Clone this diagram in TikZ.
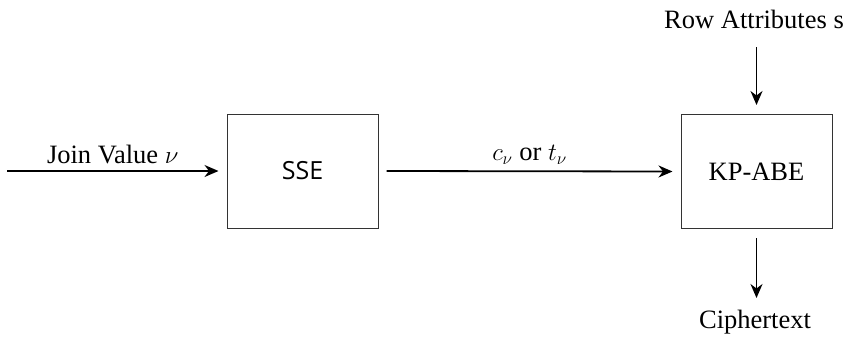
\documentclass[tikz,border=0pt]{standalone}
\usepackage{fontspec}
\setmainfont{Liberation Serif}
\setsansfont{Open Sans}
\usetikzlibrary{arrows.meta}
\begin{document}
\begin{tikzpicture}[x=1pt,y=-1pt,
  every node/.style={font=\fontsize{26.5}{30}\selectfont},
  blockbox/.style={draw=black!80,line width=1pt,minimum width=151pt,minimum height=114pt,inner sep=0pt},
  flow/.style={-{Stealth[length=14pt,width=12pt,inset=4.5pt]},line width=1.8pt}]
\useasboundingbox (0,0) rectangle (850,341);
\node[blockbox,font=\sffamily\fontsize{25}{30}\selectfont] (sse) at (302.5,171) {SSE};
\node[blockbox] (abe) at (756.5,171.5) {KP-ABE};
\coordinate (in) at (7,171);
\coordinate (topin) at (756.5,47);
\coordinate (botout) at (756.5,298);
\node[anchor=base] (rowattr) at (754,28) {Row Attributes s};
\node[anchor=base] (cipher) at (755,328) {Ciphertext};
\draw[flow] (in) -- node[above=3pt] {Join Value $\nu$} ([xshift=-8pt]sse.west);
\draw[flow] ([xshift=8pt]sse.east) -- node[above=3pt] {$c_\nu$ or $t_\nu$} ([xshift=-8pt]abe.west);
\draw[flow] (topin) -- ([yshift=9pt]abe.north);
\draw[flow] ([yshift=-9pt]abe.south) -- (botout);
\end{tikzpicture}
\end{document}
